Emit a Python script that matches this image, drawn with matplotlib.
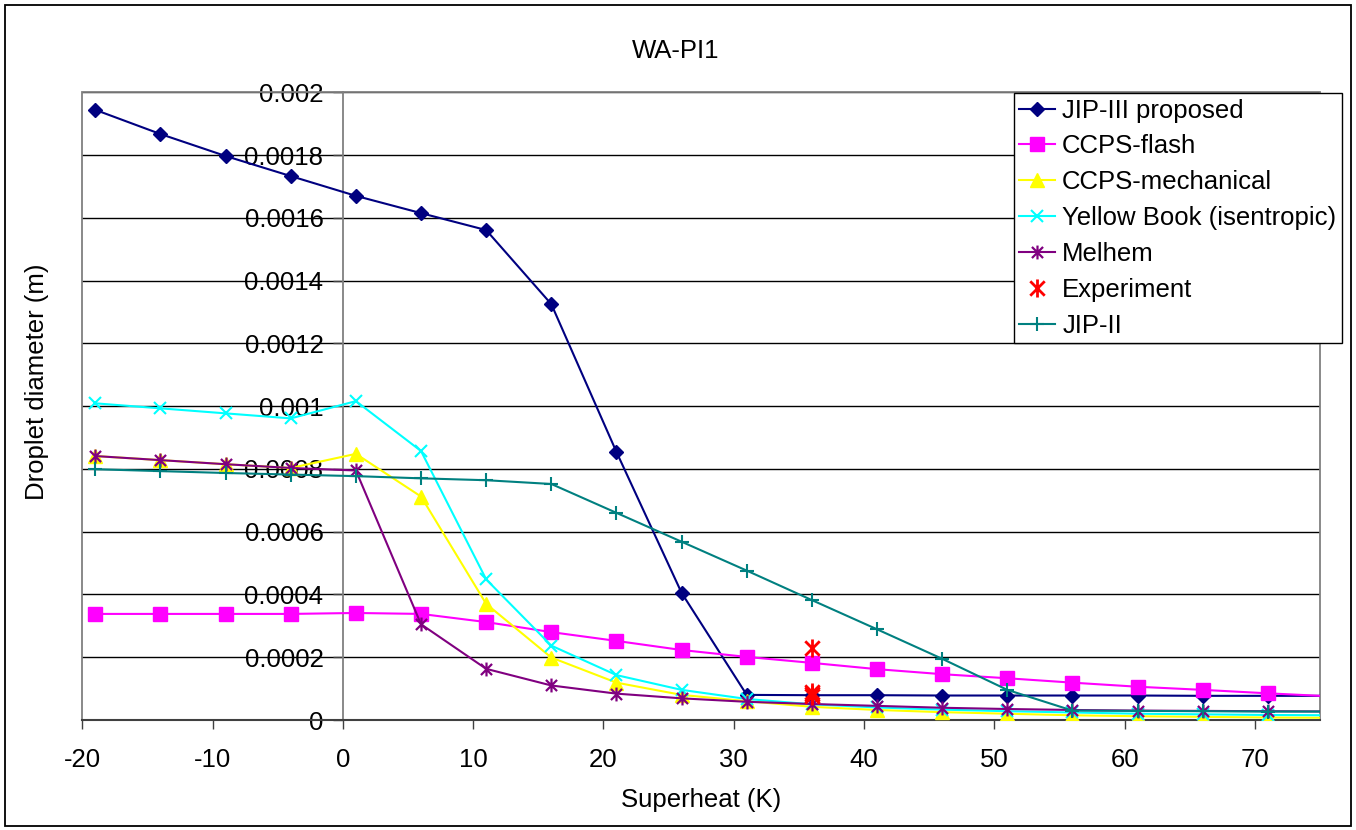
import matplotlib
matplotlib.use("Agg")
import matplotlib.pyplot as plt
from matplotlib.path import Path
from matplotlib.patches import Rectangle
from matplotlib.ticker import FuncFormatter, MultipleLocator

plt.rcParams['font.family'] = ['Liberation Sans', 'DejaVu Sans']
plt.rcParams['axes.unicode_minus'] = False

# Superheat values (K); the last entry lies just past the axis end
superheat = [-19, -14, -9, -4, 1, 6, 11, 16, 21, 26, 31, 36, 41, 46, 51, 56, 61, 66, 71, 76]

jip3_proposed = [0.001944, 0.001867, 0.001797, 0.001733, 0.001670, 0.001615, 0.001561,
                 0.001325, 0.000854, 0.000405, 0.000080, 0.000079, 0.000079, 0.000078,
                 0.000078, 0.000078, 0.000078, 0.000077, 0.000077, 0.000077]
ccps_flash = [0.000338, 0.000338, 0.000338, 0.000338, 0.000341, 0.000338, 0.000312,
              0.000280, 0.000252, 0.000223, 0.000201, 0.000182, 0.000162, 0.000146,
              0.000133, 0.000119, 0.000106, 0.000096, 0.000085, 0.000075]
ccps_mechanical = [0.000841, 0.000828, 0.000815, 0.000803, 0.000848, 0.000712, 0.000370,
                   0.000199, 0.000119, 0.000080, 0.000060, 0.000042, 0.000032, 0.000025,
                   0.000020, 0.000015, 0.000012, 0.000010, 0.000008, 0.000007]
yellow_book = [0.001009, 0.000993, 0.000977, 0.000961, 0.001016, 0.000857, 0.000448,
               0.000237, 0.000143, 0.000096, 0.000067, 0.000050, 0.000040, 0.000033,
               0.000028, 0.000024, 0.000020, 0.000018, 0.000016, 0.000015]
melhem = [0.000841, 0.000828, 0.000815, 0.000803, 0.000795, 0.000305, 0.000163,
          0.000110, 0.000084, 0.000069, 0.000058, 0.000051, 0.000045, 0.000039,
          0.000035, 0.000032, 0.000030, 0.000029, 0.000028, 0.000027]
jip2 = [0.000799, 0.000793, 0.000787, 0.000782, 0.000777, 0.000770, 0.000764,
        0.000752, 0.000660, 0.000568, 0.000476, 0.000382, 0.000289, 0.000195,
        0.000096, 0.000030, 0.000029, 0.000028, 0.000027, 0.000027]

experiment_x = [36, 36, 36, 36]
experiment_y = [0.000230, 0.000090, 0.000082, 0.000075]

# Star marker: an X crossed by a vertical stroke
star = Path([(-1, -1), (1, 1), (-1, 1), (1, -1), (0, -1.25), (0, 1.25)],
            [Path.MOVETO, Path.LINETO, Path.MOVETO, Path.LINETO, Path.MOVETO, Path.LINETO])

FS = 18.5

fig = plt.figure(figsize=(13.56, 8.30), dpi=100)
W, H = 1356, 830
left, right, top, bottom = 82.3, 1320, 92.3, 720
ax = fig.add_axes([left / W, 1 - bottom / H, (right - left) / W, (bottom - top) / H])

lw = 1.5
ax.plot(superheat, jip3_proposed, color='#000080', lw=lw, marker='D', ms=7.5,
        label='JIP-III proposed', zorder=3)
ax.plot(superheat, ccps_flash, color='#FF00FF', lw=lw, marker='s', ms=9.5,
        label='CCPS-flash', zorder=3)
ax.plot(superheat, ccps_mechanical, color='#FFFF00', lw=lw, marker='^', ms=10,
        label='CCPS-mechanical', zorder=3)
ax.plot(superheat, yellow_book, color='#00FFFF', lw=lw, marker='x', ms=9, mew=1.5,
        label='Yellow Book (isentropic)', zorder=3)
ax.plot(superheat, melhem, color='#800080', lw=lw, marker=star, ms=10, mew=1.6,
        label='Melhem', zorder=3)
ax.plot(experiment_x, experiment_y, color='#FF0000', lw=0, marker=star, ms=13, mew=2,
        label='Experiment', zorder=3)
ax.plot(superheat, jip2, color='#008080', lw=lw, marker='+', ms=10, mew=1.5,
        label='JIP-II', zorder=3)

ax.set_xlim(-20, 75)
ax.set_ylim(0, 0.002)
ax.xaxis.set_major_locator(MultipleLocator(10))
ax.yaxis.set_major_locator(MultipleLocator(0.0002))
ax.yaxis.set_major_formatter(FuncFormatter(lambda v, p: f'{v:g}'))

ax.yaxis.grid(True, color='black', lw=1.0, zorder=1)
ax.set_axisbelow(True)

# Plot area frame
ax.add_patch(Rectangle((0, 0), 1, 1, transform=ax.transAxes, fill=False,
                       edgecolor='#808080', lw=1.3, clip_on=False, zorder=2))
for s in ('top', 'right'):
    ax.spines[s].set_visible(False)
ax.spines['left'].set_position(('data', 0))
ax.spines['left'].set_color('#808080')
ax.spines['left'].set_linewidth(1.3)
ax.spines['bottom'].set_color('#404040')
ax.spines['bottom'].set_linewidth(1.5)
ax.spines['bottom'].set_zorder(2.5)

ax.tick_params(axis='y', direction='out', length=7, width=1, color='#404040',
               pad=7, labelsize=FS)
ax.tick_params(axis='x', direction='out', length=6.5, width=1, color='#404040',
               pad=13.5, labelsize=FS)

fig.text(676 / W, 1 - 51 / H, 'WA-PI1', ha='center', va='center', fontsize=FS)
fig.text(701 / W, 1 - 800 / H, 'Superheat (K)', ha='center', va='center', fontsize=FS)
fig.text(37.5 / W, 1 - 382 / H, 'Droplet diameter (m)', ha='center', va='center',
         rotation=90, fontsize=FS)

leg = ax.legend(loc='upper right', bbox_to_anchor=(1342 / W, 1 - 93 / H),
                bbox_transform=fig.transFigure, fontsize=FS, frameon=True,
                fancybox=False, edgecolor='black', framealpha=1, borderaxespad=0,
                handlelength=1.4, handletextpad=0.27, labelspacing=0.46,
                borderpad=0.22)
leg.get_frame().set_linewidth(1.0)
leg.set_zorder(5)

# Outer chart border
fig.add_artist(Rectangle((4.5 / W, 4 / H), 1346 / W, 821 / H, transform=fig.transFigure,
                         fill=False, edgecolor='black', lw=1.3))

fig.savefig('out.png', dpi=100)
